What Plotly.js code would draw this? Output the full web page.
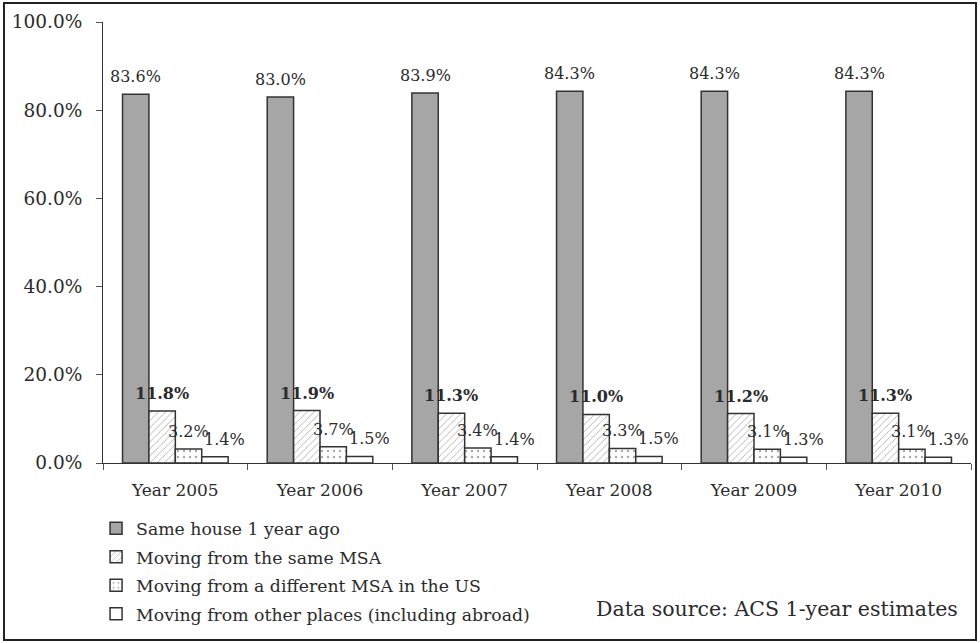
<!DOCTYPE html>
<html>
<head>
<meta charset="utf-8">
<script src="https://cdn.plot.ly/plotly-3.0.1.min.js"></script>
<style>
  html, body { margin: 0; padding: 0; background: #fff; }
  #wrap { position: relative; width: 980px; height: 643px; }
  #chart { width: 980px; height: 643px; }
  #frame { position: absolute; left: 3px; top: 2px; right: 3px; bottom: 2px;
           border: 2px solid #222; pointer-events: none; z-index: 10; }
</style>
</head>
<body>
<div id="wrap">
  <div id="chart"></div>
  <div id="frame"></div>
</div>
<script>
// Residential mobility shares by year
const years = ["Year 2005", "Year 2006", "Year 2007", "Year 2008", "Year 2009", "Year 2010"];
const seriesNames = [
  "Same house 1 year ago",
  "Moving from the same MSA",
  "Moving from a different MSA in the US",
  "Moving from other places (including abroad)"
];
const sameHouse   = [83.6, 83.0, 83.9, 84.3, 84.3, 84.3];
const sameMSA     = [11.8, 11.9, 11.3, 11.0, 11.2, 11.3];
const diffMSA     = [3.2, 3.7, 3.4, 3.3, 3.1, 3.1];
const otherPlaces = [1.4, 1.5, 1.4, 1.5, 1.3, 1.3];
const yTicks = [0, 20, 40, 60, 80, 100];

const FONT = "DejaVu Serif, Liberation Serif, serif";
const INK = "#2b2b2b";

function pct(v) { return v.toFixed(1) + "%"; }

// fill style and value-label treatment for each series
const styles = [
  { color: "#a6a6a6", pattern: { shape: "" }, bold: false, labelDx: 0 },
  { color: "#ffffff", pattern: { shape: "/", fgcolor: "#a0a0a0", bgcolor: "#ffffff", size: 5, solidity: 0.15, fillmode: "replace" }, bold: true, labelDx: 0 },
  { color: "#ffffff", pattern: { shape: ".", fgcolor: "#a8a8a8", bgcolor: "#ffffff", size: 6, solidity: 0.12, fillmode: "replace" }, bold: false, labelDx: 0 },
  { color: "#ffffff", pattern: { shape: "" }, bold: false, labelDx: 10 }
];

const values = [sameHouse, sameMSA, diffMSA, otherPlaces];

const W = 980, H = 643;
const margin = { l: 103, r: 9, t: 22, b: 180 };
const BARGAP = 0.27;

const traces = values.map((vals, i) => ({
  type: "bar",
  name: seriesNames[i],
  legendgroup: "g" + i,
  x: years,
  y: vals,
  marker: {
    color: styles[i].color,
    pattern: styles[i].pattern,
    line: { color: "#333333", width: 1.5 }
  },
  hoverinfo: "x+y+name"
}));

// value labels sit above each bar of the group
const plotW = W - margin.l - margin.r;
const barW = plotW / years.length * (1 - BARGAP) / values.length;
const annotations = [];
values.forEach((vals, i) => {
  vals.forEach((v, j) => {
    annotations.push({
      x: years[j], y: v, xref: "x", yref: "y",
      xshift: (i - (values.length - 1) / 2) * barW + styles[i].labelDx,
      yshift: 6,
      yanchor: "bottom", xanchor: "center",
      text: styles[i].bold ? "<b>" + pct(v) + "</b>" : pct(v),
      showarrow: false,
      font: { family: FONT, size: 16, color: INK }
    });
  });
});

annotations.push({
  text: "Data source: ACS 1-year estimates",
  xref: "paper", yref: "paper",
  x: 0.987, y: -0.331, xanchor: "right", yanchor: "middle",
  showarrow: false,
  font: { family: FONT, size: 20.5, color: INK }
});

const layout = {
  width: W,
  height: H,
  margin: margin,
  paper_bgcolor: "#ffffff",
  plot_bgcolor: "#ffffff",
  font: { family: FONT, size: 16, color: INK },
  barmode: "group",
  bargap: BARGAP,
  bargroupgap: 0,
  showlegend: true,
  legend: {
    x: -0.008, y: -0.108, xanchor: "left", yanchor: "top",
    font: { family: FONT, size: 17.3, color: INK },
    tracegroupgap: 3,
    bgcolor: "rgba(0,0,0,0)"
  },
  xaxis: {
    type: "category",
    showline: true, linecolor: "#333", linewidth: 1,
    ticks: "outside", ticklen: 6, tickcolor: "#555",
    tickson: "boundaries",
    ticklabelstandoff: 12,
    showgrid: false, zeroline: false,
    tickfont: { family: FONT, size: 17, color: INK }
  },
  yaxis: {
    range: [0, 100],
    tickvals: yTicks,
    ticktext: yTicks.map(pct),
    showline: true, linecolor: "#333", linewidth: 1,
    ticks: "outside", ticklen: 6, tickcolor: "#555",
    ticklabelstandoff: 10,
    showgrid: false, zeroline: false,
    tickfont: { family: FONT, size: 18.5, color: INK }
  },
  annotations: annotations
};

Plotly.newPlot("chart", traces, layout, { displayModeBar: false, staticPlot: true });
</script>
</body>
</html>
